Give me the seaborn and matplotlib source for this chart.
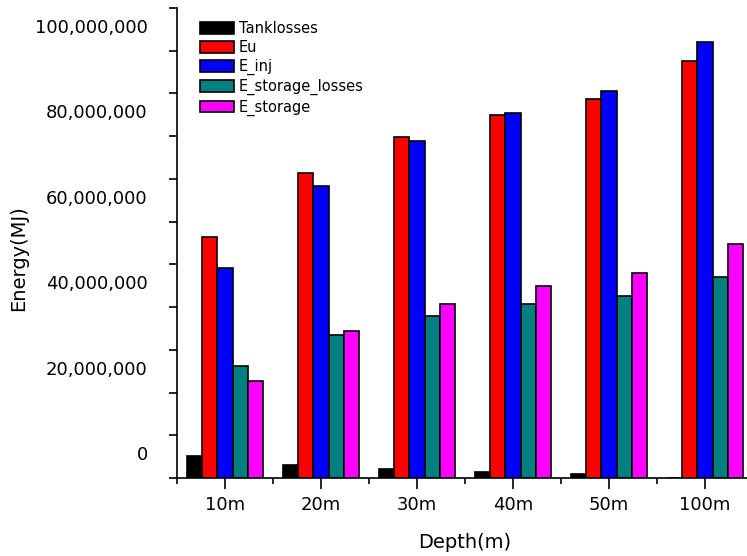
import matplotlib
matplotlib.use("Agg")
import matplotlib.pyplot as plt
import seaborn as sns
import pandas as pd
from matplotlib.ticker import FixedLocator, FixedFormatter

# ---- data (values in MJ) ----
depths = ["10m", "20m", "30m", "40m", "50m", "100m"]
series = ["Tanklosses", "Eu", "E_inj", "E_storage_losses", "E_storage"]
tanklosses = [5.15e6, 3.04e6, 2.04e6, 1.33e6, 0.87e6, 0.1e6]
eu = [56.4e6, 71.5e6, 79.8e6, 85.0e6, 88.8e6, 97.7e6]
e_inj = [49.1e6, 68.3e6, 78.9e6, 85.5e6, 90.5e6, 102.0e6]
e_storage_losses = [26.2e6, 33.5e6, 37.9e6, 40.7e6, 42.6e6, 47.1e6]
e_storage = [22.8e6, 34.5e6, 40.8e6, 44.9e6, 47.9e6, 54.7e6]
colors = ["#000000", "#FF0000", "#0000FF", "#008080", "#FF00FF"]
ytick_values = [0, 20000000, 40000000, 60000000, 80000000, 100000000]

values = [tanklosses, eu, e_inj, e_storage_losses, e_storage]
rows = []
for s, vals in zip(series, values):
    for d, v in zip(depths, vals):
        rows.append({"Depth": d, "Series": s, "Energy": v})
df = pd.DataFrame(rows)

sns.set_style("ticks")
plt.rcParams["font.family"] = ["DejaVu Sans"]
for key in ["text.color", "axes.labelcolor", "xtick.color", "ytick.color",
            "axes.edgecolor"]:
    plt.rcParams[key] = "black"

fig = plt.figure(figsize=(7.47, 5.56), dpi=100)
ax = fig.add_axes([177 / 747, 78 / 556, 576 / 747, 470 / 556])

sns.barplot(data=df, x="Depth", y="Energy", hue="Series", order=depths,
            hue_order=series, palette=colors, saturation=1, width=0.8,
            edgecolor="black", linewidth=1.2, errorbar=None, ax=ax)

ax.set_xlim(-0.5, 5.5)
ax.set_ylim(0, 110e6)

# y axis: tick marks every 10,000,000; labels placed as in the original
ax.yaxis.set_minor_locator(FixedLocator([i * 10e6 for i in range(12)]))
label_offset = 5.85e6
ax.yaxis.set_major_locator(FixedLocator([v + label_offset for v in ytick_values]))
ax.yaxis.set_major_formatter(FixedFormatter([f"{v:,}" for v in ytick_values]))
ax.tick_params(axis="y", which="major", length=0, pad=21, labelsize=13)
ax.tick_params(axis="y", which="minor", length=6, width=1.2, direction="out")

# x axis
ax.xaxis.set_minor_locator(FixedLocator([i - 0.5 for i in range(7)]))
ax.tick_params(axis="x", which="major", length=8, width=1.2, direction="out",
               pad=5, labelsize=13)
ax.tick_params(axis="x", which="minor", length=4, width=1.2, direction="out")

for side in ["top", "right"]:
    ax.spines[side].set_visible(False)
for side in ["left", "bottom"]:
    ax.spines[side].set_linewidth(1.2)

ax.set_xlabel("Depth(m)", fontsize=14)
ax.set_ylabel("Energy(MJ)", fontsize=14)
ax.xaxis.set_label_coords(0.5, -0.117)
ax.yaxis.set_label_coords(-0.258, 0.468)

handles, labels = ax.get_legend_handles_labels()
ax.legend(handles, labels, loc="upper left", bbox_to_anchor=(0.040, 0.972),
          frameon=False, fontsize=10.5, borderpad=0, handlelength=2.3,
          handleheight=0.82, handletextpad=0.35, labelspacing=0.27,
          borderaxespad=0)

fig.savefig("out.png", dpi=100)
